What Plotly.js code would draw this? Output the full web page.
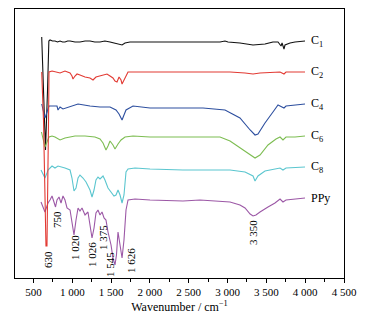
<!DOCTYPE html>
<html>
<head>
<meta charset="utf-8">
<script src="https://cdn.plot.ly/plotly-3.0.1.min.js"></script>
<style>html,body{margin:0;padding:0;background:#fff;}#chart{width:366px;height:315px;}</style>
</head>
<body>
<div id="chart"></div>
<script>
// Series names (labels at right end)
const seriesNames = ['C<sub>1</sub>', 'C<sub>2</sub>', 'C<sub>4</sub>', 'C<sub>6</sub>', 'C<sub>8</sub>', 'PPy'];
const seriesColors = ['#111111', '#e23a33', '#2d4f9f', '#7dbd52', '#5bc6cf', '#9c58a6'];

// Wavenumber (cm^-1) and offset transmittance (a.u.) for each spectrum
const c1Wn = [606,629,655,681,698,713,745,777,810,842,875,906,940,971,1035,1099,1165,1228,1290,1357,1420,1486,1550,1589,1641,1679,1743,1870,2001,2200,2426,2645,2903,2967,3006,3160,3328,3482,3585,3650,3676,3689,3702,3714,3727,3740,3766,3805,3869,3998];
const c1T  = [241,178,128,188,237,238,237,237,236,237,236,236,237,237,236,236,237,237,236,236,237,236,235,234,233,235,236,236,236,236,236,236,236,237,236,235,233,234,236,236,234,232,235,231,229,233,234,235,236,237];

const c2Wn = [606,629,661,674,694,700,740,777,842,906,971,996,1009,1035,1061,1099,1164,1228,1267,1305,1357,1447,1486,1524,1550,1576,1602,1628,1641,1666,1692,1718,2001,2426,3032,3225,3328,3418,3676,3727,3753,3998];
const c2T  = [206,158,32,32,158,206,207,206,205,207,205,202,199,202,204,203,201,200,198,201,202,204,202,200,197,196,201,198,194,198,203,206,206,206,206,205,204,205,206,204,206,206];

const c4Wn = [606,629,648,674,700,739,803,816,842,880,971,1074,1228,1357,1486,1563,1602,1641,1666,1692,1782,2001,2426,2684,2967,3160,3291,3354,3392,3482,3585,3650,3676,3702,3727,3753,3869,3998];
const c4T  = [174,166,160,166,172,172,172,168,171,169,171,174,172,171,171,168,164,158,163,168,172,170,170,170,168,160,148,143,144,155,166,173,172,171,170,172,173,174];

const c6Wn = [603,629,648,674,700,739,777,842,906,1035,1164,1292,1357,1396,1434,1460,1486,1524,1550,1589,1628,1679,1782,2001,2426,2903,3032,3160,3291,3354,3418,3521,3624,3676,3714,3753,3869,3998];
const c6T  = [146,136,131,136,141,142,141,138,140,142,142,141,139,135,128,132,137,133,129,134,138,141,142,141,141,141,137,130,123,120,123,133,139,141,138,141,141,142];

const c8Wn = [597,623,648,674,687,739,777,816,867,906,971,996,1022,1048,1074,1099,1138,1177,1228,1254,1280,1305,1331,1357,1396,1421,1460,1499,1537,1563,1589,1615,1641,1666,1692,1718,1808,2001,2426,3032,3225,3328,3354,3392,3482,3676,3714,3753,3998];
const c8T  = [108,103,100,105,108,112,110,112,111,110,108,100,87,90,100,103,100,96,88,81,88,98,101,99,102,98,90,86,82,83,88,83,75,83,106,109,110,109,108,108,106,102,97,102,107,110,108,110,111];

const ppyWn = [597,623,648,674,687,713,739,764,784,803,829,855,880,906,932,971,996,1022,1048,1074,1099,1125,1164,1202,1228,1254,1280,1305,1331,1357,1383,1409,1434,1460,1499,1524,1550,1569,1589,1615,1641,1666,1692,1718,1808,2001,2426,2645,3032,3160,3225,3291,3328,3366,3418,3521,3611,3676,3714,3753,3869,3998];
const ppyT  = [76,70,66,72,75,78,82,76,71,78,81,75,82,78,70,68,56,43,58,70,67,70,63,66,53,40,50,65,68,63,66,60,58,46,33,20,13,23,46,33,20,38,68,78,79,78,77,78,76,73,70,64,62,63,66,71,75,79,76,78,79,80];

// Peak annotations
const peakText = ['630', '750', '1 020', '1 026', '1 375', '1 545', '1 626', '3 350'];
const peakWn   = [687, 803, 1035, 1254, 1396, 1486, 1756, 3328];

// Axis ticks
const tickVals = [500, 1000, 1500, 2000, 2500, 3000, 3500, 4000, 4500];
const tickText = ['500', '1 000', '1 500', '2 000', '2 500', '3 000', '3 500', '4 000', '4 500'];

const allWn = [c1Wn, c2Wn, c4Wn, c6Wn, c8Wn, ppyWn];
const allT = [c1T, c2T, c4T, c6T, c8T, ppyT];

// draw order: red (C2) last so its deep band sits on top
const order = [0, 2, 3, 4, 5, 1];
const traces = order.map(i => ({
  x: allWn[i], y: allT[i], type: 'scatter', mode: 'lines',
  line: {color: seriesColors[i], width: 1.1},
  name: seriesNames[i], hoverinfo: 'skip'
}));

const serif = 'Liberation Serif, Times New Roman, serif';
const peakY = [19, 58, 30, 23, 40, 13, 18, 45];

const annotations = [];
seriesNames.forEach((nm, i) => {
  annotations.push({
    x: 4050, y: allT[i][allT[i].length - 1], xref: 'x', yref: 'y',
    text: nm, showarrow: false, xanchor: 'left', yanchor: 'middle',
    font: {family: serif, size: 12, color: '#000'}
  });
});
peakText.forEach((t, i) => {
  annotations.push({
    x: peakWn[i], y: peakY[i], xref: 'x', yref: 'y',
    text: t, showarrow: false, textangle: -90,
    xanchor: 'center', yanchor: 'middle',
    font: {family: serif, size: 11, color: '#000'}
  });
});

const layout = {
  width: 366, height: 315,
  margin: {l: 15, r: 22, t: 9, b: 37, pad: 0},
  paper_bgcolor: '#ffffff', plot_bgcolor: '#ffffff',
  showlegend: false,
  font: {family: serif, size: 11, color: '#000'},
  xaxis: {
    range: [262, 4500], tickvals: tickVals, ticktext: tickText,
    ticks: 'outside', ticklen: 4, tickwidth: 1, tickcolor: '#000',
    minor: {dtick: 250, tick0: 0, ticks: 'outside', ticklen: 2.5, tickcolor: '#000', tickwidth: 1},
    showline: true, linecolor: '#000', linewidth: 1, mirror: true,
    showgrid: false, zeroline: false,
    tickfont: {family: serif, size: 11, color: '#000'},
    title: {text: 'Wavenumber / cm<sup>−1</sup>', font: {family: serif, size: 12, color: '#000'}, standoff: 5}
  },
  yaxis: {
    range: [0, 269], showticklabels: false, ticks: '',
    showline: true, linecolor: '#000', linewidth: 1, mirror: true,
    showgrid: false, zeroline: false
  },
  annotations: annotations
};

Plotly.newPlot('chart', traces, layout, {displayModeBar: false});
</script>
</body>
</html>
